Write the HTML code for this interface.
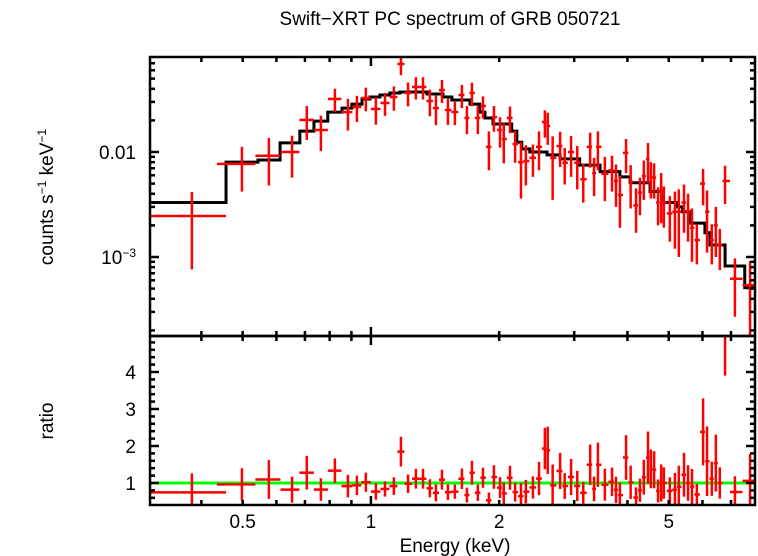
<!DOCTYPE html>
<html><head><meta charset="utf-8"><style>
html,body{margin:0;padding:0;background:#fff}
svg{display:block;font-family:"Liberation Sans",sans-serif}
</style></head><body>
<svg id="chart" width="758" height="556" viewBox="0 0 758 556" xmlns="http://www.w3.org/2000/svg">
<defs>
<clipPath id="clipTop"><rect x="150" y="57" width="605" height="279"/></clipPath>
<clipPath id="clipBot"><rect x="150" y="336" width="605" height="169"/></clipPath>
</defs>
<text x="450" y="25" font-size="19" text-anchor="middle">Swift−XRT PC spectrum of GRB 050721</text>
<text transform="translate(53,197) rotate(-90)" font-size="19" text-anchor="middle">counts s<tspan font-size="12" dy="-7">−1</tspan><tspan dy="7"> keV</tspan><tspan font-size="12" dy="-7">−1</tspan></text>
<text transform="translate(53,421) rotate(-90)" font-size="19" text-anchor="middle">ratio</text>
<text x="455" y="552" font-size="19" text-anchor="middle">Energy (keV)</text>
<g id="gTop"></g>
<g id="gBot"></g>
<g id="gAxes"></g>
</svg>
<script>
const energy = [0.380,0.498,0.576,0.653,0.707,0.763,0.823,0.883,0.927,0.973,1.027,1.079,1.132,1.176,1.222,1.275,1.325,1.375,1.421,1.468,1.516,1.574,1.635,1.680,1.726,1.782,1.832,1.892,1.944,2.009,2.05,2.12,2.18,2.25,2.31,2.40,2.48,2.56,2.60,2.67,2.78,2.85,2.95,3.05,3.15,3.27,3.34,3.41,3.54,3.68,3.76,3.84,3.97,4.07,4.19,4.28,4.37,4.47,4.54,4.62,4.72,4.80,4.87,5.03,5.17,5.28,5.43,5.55,5.67,5.82,6.02,6.15,6.31,6.45,6.59,6.78,7.15,7.76];
const flux = [0.00246,0.0077,0.0092,0.010,0.0202,0.0162,0.032,0.024,0.0268,0.0327,0.0257,0.0293,0.0334,0.0689,0.0365,0.0416,0.0416,0.0306,0.0262,0.0389,0.0251,0.024,0.0349,0.0211,0.0365,0.0211,0.0274,0.0112,0.0215,0.0162,0.0133,0.0211,0.0119,0.0080,0.0082,0.0088,0.0112,0.0193,0.0177,0.0088,0.0114,0.0079,0.0100,0.0079,0.0055,0.0112,0.0063,0.0112,0.0062,0.0067,0.0053,0.0039,0.0098,0.0052,0.0031,0.0041,0.0059,0.0086,0.0058,0.0057,0.0033,0.0042,0.0033,0.0026,0.0027,0.0027,0.0033,0.0027,0.0019,0.00145,0.0050,0.0027,0.00145,0.0020,0.0013,0.0053,0.00062,0.00054];
const fluxErr = [0.0017,0.0035,0.0044,0.0043,0.0072,0.006,0.008,0.008,0.0075,0.0083,0.0075,0.0072,0.0087,0.015,0.0093,0.010,0.010,0.0087,0.0082,0.0096,0.007,0.006,0.0087,0.0063,0.0093,0.0063,0.0065,0.0045,0.0059,0.0052,0.0055,0.006,0.004,0.0044,0.0034,0.003,0.0045,0.0056,0.006,0.0053,0.0042,0.003,0.0042,0.0035,0.0022,0.0041,0.0025,0.0045,0.0028,0.0025,0.0023,0.002,0.0035,0.0023,0.0014,0.0016,0.0024,0.0036,0.0022,0.0021,0.0013,0.0021,0.0014,0.0012,0.0015,0.0017,0.0016,0.0013,0.001,0.0006,0.0019,0.0016,0.0006,0.001,0.00055,0.0021,0.00035,0.00037];
const modelEdges = [0.303,0.457,0.543,0.612,0.681,0.735,0.792,0.855,0.902,0.953,0.995,1.05,1.108,1.17,1.354,1.476,1.549,1.708,1.80,1.852,1.934,2.14,2.2,2.26,2.36,2.59,2.78,3.09,3.45,3.84,4.06,4.52,4.85,5.22,5.39,5.6,6.08,6.25,6.78,7.54,8.0];
const modelVals = [0.0033,0.0080,0.0084,0.0122,0.0158,0.0197,0.024,0.0262,0.0286,0.032,0.0334,0.0349,0.0365,0.0373,0.0357,0.0334,0.0313,0.0286,0.024,0.0211,0.0185,0.0158,0.0124,0.0107,0.010,0.0094,0.0086,0.0075,0.0065,0.0058,0.0051,0.0042,0.0033,0.0030,0.0027,0.0021,0.0017,0.0013,0.00082,0.00051];
const xTickLabels = [0.5,1,2,5];
const ratioTickLabels = [1,2,3,4];

const NS="http://www.w3.org/2000/svg";
const X0=150,X1=755,EMIN=0.303,EMAX=7.97;
const xS=e=>X0+(Math.log10(e)-Math.log10(EMIN))/(Math.log10(EMAX)-Math.log10(EMIN))*(X1-X0);
const yT=f=>152-(Math.log10(f)+2)*105;
const yB=r=>483-(r-1)*37;
function mk(parent,tag,attrs){const el=document.createElementNS(NS,tag);for(const k in attrs)el.setAttribute(k,attrs[k]);parent.appendChild(el);return el;}
const gTop=document.getElementById('gTop'),gBot=document.getElementById('gBot'),gAx=document.getElementById('gAxes');
gTop.setAttribute('clip-path','url(#clipTop)');gBot.setAttribute('clip-path','url(#clipBot)');
function modelAt(e){for(let i=0;i<modelVals.length;i++){if(e>=modelEdges[i]&&e<modelEdges[i+1])return modelVals[i];}return modelVals[modelVals.length-1];}
let d='';
for(let i=0;i<modelVals.length;i++){const y=yT(modelVals[i]);d+=(i===0?'M':'L')+xS(modelEdges[i])+' '+y+' L'+xS(modelEdges[i+1])+' '+y+' ';}
const ml=mk(gTop,'path',{d:d,fill:'none',stroke:'#000','stroke-width':3});


const ul=mk(gBot,'line',{x1:X0,x2:X1,y1:yB(1),y2:yB(1),stroke:'#00ff00','stroke-width':3});


const n=Math.min(energy.length,flux.length,fluxErr.length);
for(let i=0;i<n;i++){
  const lo=i===0?EMIN:Math.sqrt(energy[i-1]*energy[i]);
  const hi=i===0?modelEdges[1]:(i===n-1?EMAX+0.1:Math.sqrt(energy[i]*energy[i+1]));
  const xl=xS(lo),xh=xS(hi),xc=xS(energy[i]);
  const g=mk(gTop,'g',{stroke:'#ff0000','stroke-width':2.5});
  
  
  const top=flux[i]+fluxErr[i],bot=Math.max(flux[i]-fluxErr[i],1e-6);
  mk(g,'line',{x1:xl,x2:xh,y1:yT(flux[i]),y2:yT(flux[i])});
  mk(g,'line',{x1:xc,x2:xc,y1:yT(top),y2:yT(bot)});
  const m=modelAt(energy[i]),r=flux[i]/m,re=fluxErr[i]/m;
  const g2=mk(gBot,'g',{stroke:'#ff0000','stroke-width':2.5});
  
  
  mk(g2,'line',{x1:xl,x2:xh,y1:yB(r),y2:yB(r)});
  mk(g2,'line',{x1:xc,x2:xc,y1:yB(r+re),y2:yB(r-re)});
}
const f1=mk(gAx,'rect',{x:X0,y:57,width:X1-X0,height:279,fill:'none',stroke:'#000','stroke-width':2.5});


const f2=mk(gAx,'rect',{x:X0,y:336,width:X1-X0,height:169,fill:'none',stroke:'#000','stroke-width':2.5});


const xt=[0.4,0.5,0.6,0.7,0.8,0.9,1,2,3,4,5,6,7];
xt.forEach(v=>{const x=xS(v),L=(v===1)?9:5;
  [[57,57+L],[336,336-L],[336,336+L],[505,505-L]].forEach(p=>{mk(gAx,'line',{x1:x,x2:x,y1:p[0],y2:p[1],stroke:'#000','stroke-width':2.5});});});
xTickLabels.forEach(v=>{const t=mk(gAx,'text',{x:xS(v),y:528,'font-size':19,'text-anchor':'middle'});t.textContent=String(v);
  
  });
for(let dec=-4;dec<=-1;dec++){for(let k=1;k<10;k++){const v=k*Math.pow(10,dec);const y=yT(v);if(y<58||y>335)continue;const L=k===1?9:5;
  mk(gAx,'line',{x1:X0,x2:X0+L,y1:y,y2:y,stroke:'#000','stroke-width':2.5});
  mk(gAx,'line',{x1:X1,x2:X1-L,y1:y,y2:y,stroke:'#000','stroke-width':2.5});}}
const l1=mk(gAx,'text',{x:136,y:159,'font-size':19,'text-anchor':'end'});l1.textContent='0.01';


const l2=mk(gAx,'text',{x:136,y:264,'font-size':19,'text-anchor':'end'});l2.innerHTML='10<tspan font-size="12" dy="-7">−3</tspan>';


for(let v=0.4;v<=4.95;v+=0.2){const y=yB(v);if(y<337||y>504)continue;const maj=Math.abs(v-Math.round(v))<0.01;const L=maj?9:5;
  mk(gAx,'line',{x1:X0,x2:X0+L,y1:y,y2:y,stroke:'#000','stroke-width':2.5});
  mk(gAx,'line',{x1:X1,x2:X1-L,y1:y,y2:y,stroke:'#000','stroke-width':2.5});}
ratioTickLabels.forEach(v=>{const t=mk(gAx,'text',{x:136,y:yB(v)+7,'font-size':19,'text-anchor':'end'});t.textContent=String(v);
  
  });
</script>
</body></html>
